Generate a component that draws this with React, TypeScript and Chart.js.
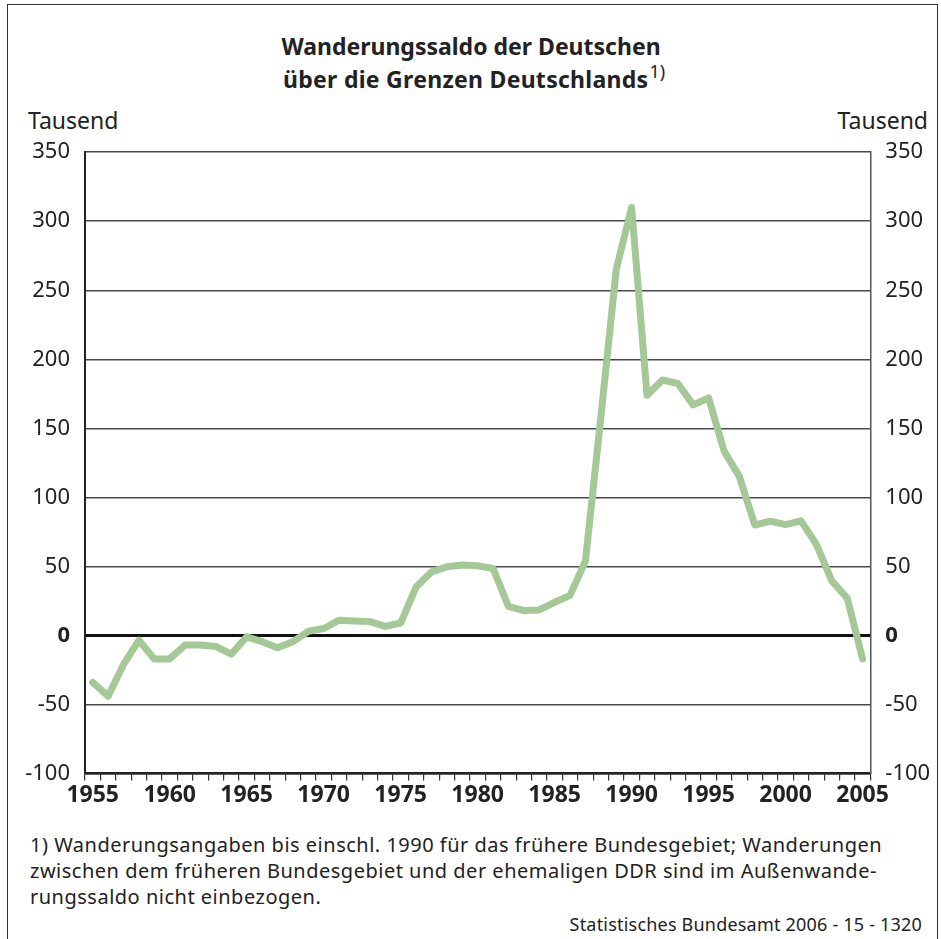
import React, { useEffect, useRef } from "react";
import { Chart, registerables } from "chart.js";

Chart.register(...registerables);

const years: string[] = [
  "1955", "1956", "1957", "1958", "1959", "1960", "1961", "1962", "1963", "1964",
  "1965", "1966", "1967", "1968", "1969", "1970", "1971", "1972", "1973", "1974",
  "1975", "1976", "1977", "1978", "1979", "1980", "1981", "1982", "1983", "1984",
  "1985", "1986", "1987", "1988", "1989", "1990", "1991", "1992", "1993", "1994",
  "1995", "1996", "1997", "1998", "1999", "2000", "2001", "2002", "2003", "2004",
  "2005",
];

const saldo: number[] = [
  -34, -44, -21, -3.5, -17, -17, -7, -7, -8, -13.5,
  -1, -4.5, -9, -4.5, 3, 5, 11, 10.5, 10, 6.5,
  9, 35, 46, 49.7, 51, 50.5, 48.5, 21, 18, 18.5,
  24, 29, 54, 158, 265, 310, 174, 185, 182.5, 167,
  172, 133.7, 115, 80, 82.7, 80.3, 83, 66, 39.5, 27,
  -17,
];

const yMin = -100;
const yMax = 350;
const yStep = 50;
const labeledYears: string[] = ["1955", "1960", "1965", "1970", "1975", "1980", "1985", "1990", "1995", "2000", "2005"];

const FONT = "'Noto Sans', sans-serif";

export default function App() {
  const ref = useRef<HTMLCanvasElement | null>(null);

  useEffect(() => {
    if (!ref.current) return;
    const yTicks = {
      stepSize: yStep,
      color: "#222",
      padding: 15,
      font: (ctx: any) => ({
        family: FONT,
        size: 22,
        weight: ctx.tick && ctx.tick.value === 0 ? "bold" : "normal",
      }),
    };
    const chart = new Chart(ref.current, {
      type: "line",
      data: {
        labels: years,
        datasets: [
          {
            data: saldo,
            borderColor: "#a4c896",
            borderWidth: 7,
            pointRadius: 0,
            borderJoinStyle: "round",
            borderCapStyle: "round",
            tension: 0,
            yAxisID: "y",
          },
        ],
      },
      options: {
        animation: false,
        responsive: false,
        devicePixelRatio: 1,
        layout: { padding: { left: 8, right: 8, top: 14.4, bottom: 0 } },
        plugins: { legend: { display: false }, tooltip: { enabled: false } },
        scales: {
          x: {
            type: "category",
            offset: true,
            afterFit: (s: any) => {
              s.height = 36.5;
            },
            grid: {
              offset: true,
              drawOnChartArea: false,
              drawTicks: true,
              tickLength: 7,
              color: "#333",
              lineWidth: 1.2,
            },
            border: { display: true, color: "#222", width: 2.5 },
            ticks: {
              autoSkip: false,
              maxRotation: 0,
              padding: 1,
              color: "#222",
              font: { family: FONT, size: 23, weight: "bold" },
              callback: (_v: any, i: number) => (labeledYears.includes(years[i]) ? years[i] : ""),
            },
          },
          y: {
            position: "left",
            min: yMin,
            max: yMax,
            afterFit: (s: any) => {
              s.width = 77;
            },
            grid: {
              drawTicks: false,
              color: (ctx: any) => (ctx.tick && ctx.tick.value === 0 ? "#111" : "#4a4a4a"),
              lineWidth: (ctx: any) => (ctx.tick && ctx.tick.value === 0 ? 3 : 1.5),
            },
            border: { display: true, color: "#222", width: 2 },
            ticks: yTicks as any,
          },
          y2: {
            position: "right",
            min: yMin,
            max: yMax,
            afterFit: (s: any) => {
              s.width = 62.7;
            },
            grid: { drawOnChartArea: false, drawTicks: false },
            border: { display: true, color: "#555", width: 1.5 },
            ticks: yTicks as any,
          },
        },
      },
    });
    return () => chart.destroy();
  }, []);

  const text: React.CSSProperties = {
    position: "absolute",
    fontFamily: FONT,
    color: "#222",
    whiteSpace: "nowrap",
  };

  return (
    <div style={{ position: "absolute", left: 0, top: 0, width: 941, height: 939, overflow: "hidden", background: "#fff" }}>
      <div
        style={{
          position: "absolute",
          left: 7,
          top: 4,
          width: 929,
          height: 960,
          borderLeft: "1.5px solid #333",
          borderTop: "1.5px solid #333",
          borderRight: "1.5px solid #333",
        }}
      />
      <div style={{ ...text, left: 0, width: 942, top: 30, textAlign: "center", fontSize: 23, fontWeight: "bold", lineHeight: "33px" }}>
        Wanderungssaldo der Deutschen
      </div>
      <div style={{ ...text, left: 283, top: 63, fontSize: 23, fontWeight: "bold", lineHeight: "33px", letterSpacing: 0.28 }}>
        über die Grenzen Deutschlands
        <span style={{ fontSize: 18, fontWeight: "normal", position: "relative", top: -10, marginLeft: 1, letterSpacing: 0 }}>1)</span>
      </div>
      <div style={{ ...text, left: 28, top: 104, fontSize: 23, lineHeight: "32px" }}>Tausend</div>
      <div style={{ ...text, right: 13, top: 104, fontSize: 23, lineHeight: "32px" }}>Tausend</div>
      <canvas ref={ref} width={941} height={686} style={{ position: "absolute", left: 0, top: 124, width: 941, height: 686 }} />
      <div style={{ ...text, left: 30, top: 832, fontSize: 20, lineHeight: "26px", letterSpacing: 0.5 }}>
        1) Wanderungsangaben bis einschl. 1990 für das frühere Bundesgebiet; Wanderungen
        <br />
        zwischen dem früheren Bundesgebiet und der ehemaligen DDR sind im Außenwande-
        <br />
        rungssaldo nicht einbezogen.
      </div>
      <div style={{ ...text, right: 19, top: 912, fontSize: 18, lineHeight: "25px", letterSpacing: 0.2 }}>Statistisches Bundesamt 2006 - 15 - 1320</div>
    </div>
  );
}
